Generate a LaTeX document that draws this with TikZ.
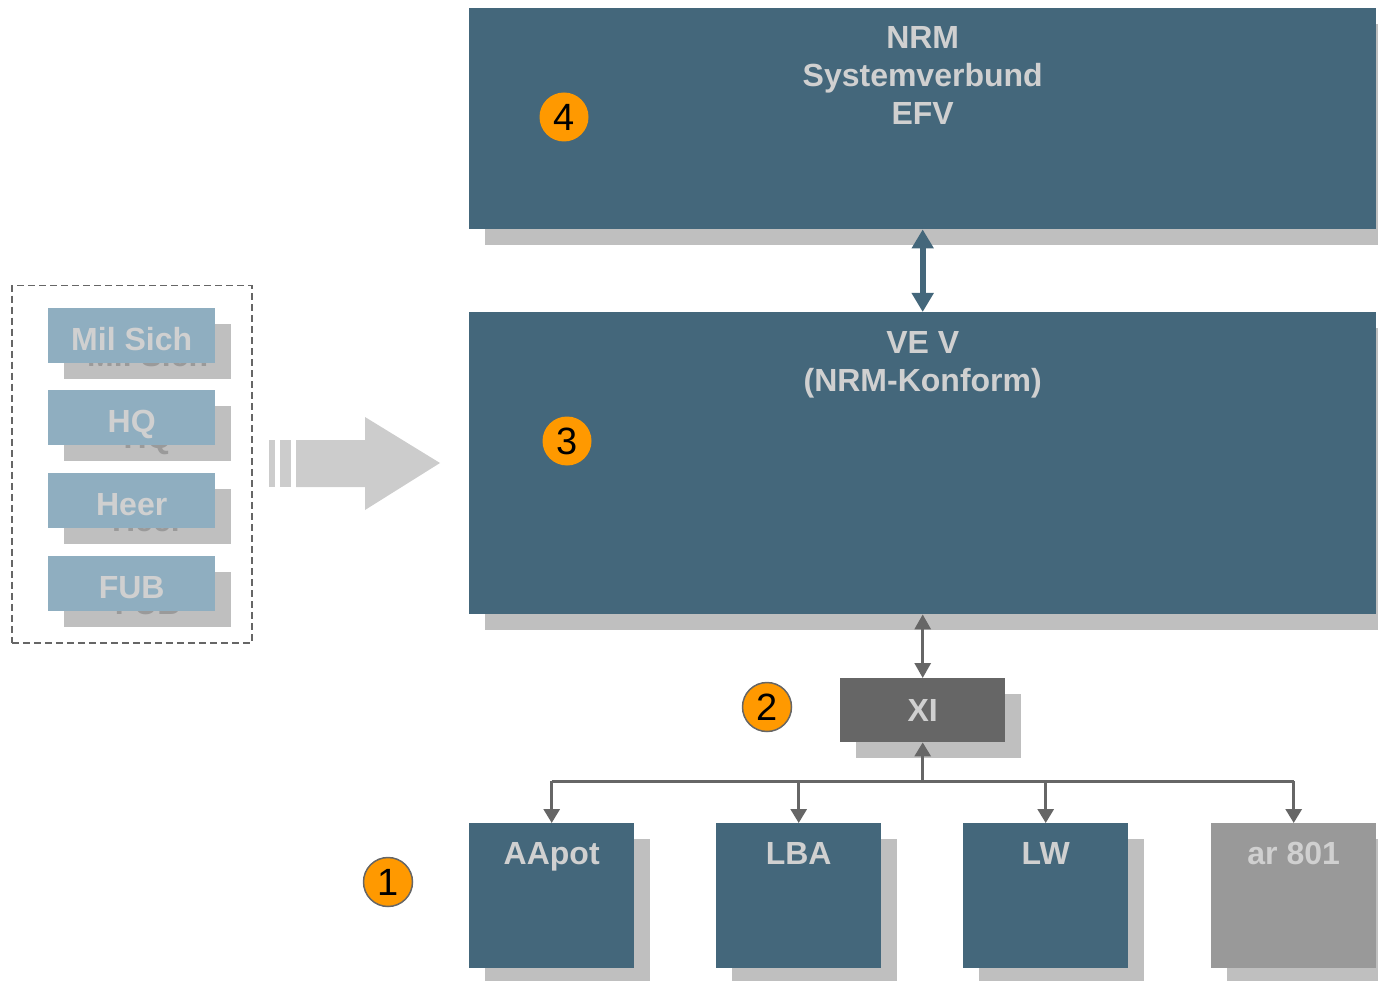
\documentclass[tikz,border=0pt]{standalone}
\usepackage{fontspec}
\setmainfont{Liberation Sans}
\usetikzlibrary{calc}
\usetikzlibrary{arrows.meta}
\usetikzlibrary{shadows}

\definecolor{boxblue}{HTML}{44677B}
\definecolor{paleblue}{HTML}{8FAEC0}
\definecolor{shadegrey}{HTML}{BFBFBF}
\definecolor{darkgrey}{HTML}{666666}
\definecolor{midgrey}{HTML}{999999}
\definecolor{lettergrey}{HTML}{D0D0D0}
\definecolor{ghostgrey}{HTML}{9A9A9A}
\definecolor{arrowgrey}{HTML}{CCCCCC}
\definecolor{markerorange}{HTML}{FF9900}

\begin{document}
\begin{tikzpicture} [x=1pt, y=-1pt,
  box/.style={rectangle, inner sep=0pt, fill=boxblue, anchor=north west,
    drop shadow={shadow xshift=16pt, shadow yshift=-16pt, fill=shadegrey, opacity=1}},
  boxtext/.style={text=lettergrey, font=\fontsize{32}{38}\selectfont\bfseries, align=center, inner sep=0pt},
  smallbox/.style={rectangle, inner sep=0pt, anchor=north west, minimum width=167pt, minimum height=55pt,
    text height=29pt, text depth=0pt,
    fill=paleblue, text=lettergrey, font=\fontsize{32}{32}\selectfont\bfseries},
  ghostbox/.style={smallbox, fill=shadegrey, text=ghostgrey},
  marker/.style={circle, fill=markerorange, minimum size=49pt, inner sep=0pt, font=\fontsize{38}{38}\selectfont},
  link/.style={darkgrey, line width=3pt}
]
\useasboundingbox (0,0) rectangle (1378,981);

\node[box, minimum width=907pt, minimum height=221pt] (nrm) at (469,8) {};
\node[boxtext] (nrm-label) at ($(nrm.north)+(0,67)$) {NRM\\Systemverbund\\EFV};
\node[marker] (m4) at (564,117) {4};

\node[box, minimum width=907pt, minimum height=302pt] (vev) at (469,312) {};
\node[boxtext] (vev-label) at ($(vev.north)+(0,52.5)$) {VE V\\(NRM-Konform)};
\node[marker] (m3) at (567,441) {3};

\draw[boxblue, line width=6pt, {Triangle[width=21pt,length=19pt]}-{Triangle[width=21pt,length=19pt]}] (nrm.south) -- (vev.north);

\node[box, fill=darkgrey, minimum width=165pt, minimum height=64pt, text=lettergrey, font=\fontsize{32}{32}\selectfont\bfseries] (xi) at (840,678) {XI};
\node[marker, draw=darkgrey, line width=1.5pt] (m2) at (767,707) {2};

\draw[link, {Triangle[width=16pt,length=15pt]}-{Triangle[width=16pt,length=15pt]}] (vev.south) -- (xi.north);

\foreach \name/\x/\txt/\col in {aapot/469/AApot/boxblue, lba/716/LBA/boxblue, lw/963/LW/boxblue, ar/1211/ar 801/midgrey}
{
\node[box, fill=\col, minimum width=165pt, minimum height=145pt] (\name) at (\x,823) {};
\node[boxtext, anchor=base] (\name-label) at ($(\name.north)+(0,41)$) {\txt};
}
\node[marker, draw=darkgrey, line width=1.5pt] (m1) at (388,882) {1};

\coordinate (bus) at ($(xi.south)+(0,39)$);
\draw[link, -{Triangle[width=16pt,length=14pt]}] (bus) -- (xi.south);
\draw[link] (aapot.north |- bus) -- (ar.north |- bus);
\foreach \name in {aapot, lba, lw, ar}
\draw[link, -{Triangle[width=16pt,length=14pt]}] (\name.north |- bus) -- (\name.north);

\node[rectangle, draw=darkgrey, line width=1.5pt, dash pattern=on 7pt off 4pt, anchor=north west,
  minimum width=240pt, minimum height=357pt, inner sep=0pt] (group) at (11,285) {};
\foreach \name/\y/\txt in {milsich/308/Mil Sich, hq/390/HQ, heer/473/Heer, fub/556/FUB}
{
\node[ghostbox] (\name-shadow) at (64,\y+16) {\txt};
\node[smallbox] (\name) at (48,\y) {\txt};
}

\fill[arrowgrey] (296,440) -- (365,440) -- (365,417) -- (440,463) -- (365,510) -- (365,487) -- (296,487) -- cycle;
\fill[arrowgrey] (269,440) rectangle (275,487);
\fill[arrowgrey] (280,440) rectangle (291,487);

\end{tikzpicture}
\end{document}
